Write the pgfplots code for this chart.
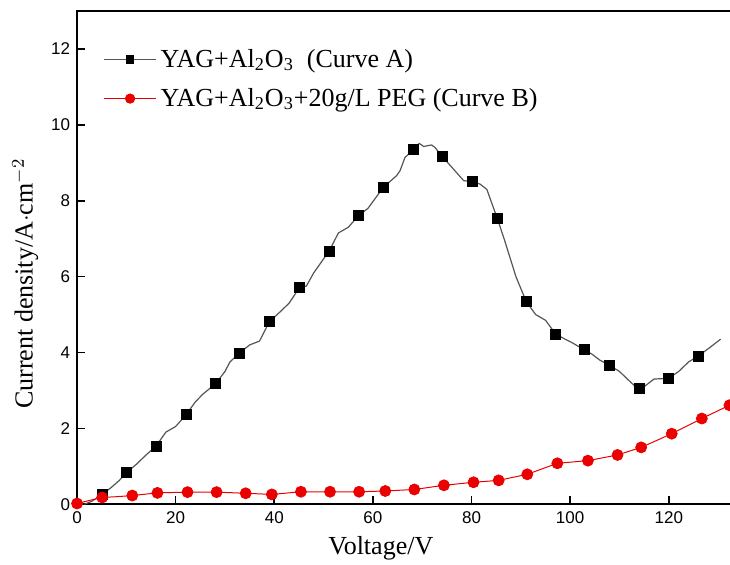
\documentclass[border=0pt]{standalone}
\usepackage{fontspec}
\setmainfont{Liberation Serif}
\setsansfont{Liberation Sans}
\usepackage{pgfplots}
\pgfplotsset{compat=1.18}
\pgfplotsset{legend image code/.code={%
    \draw[#1] (0pt,0pt) -- (26pt,0pt);
    \draw[#1] plot coordinates {(13pt,0pt)};}}

\definecolor{lineA}{RGB}{85,85,85}
\definecolor{redB}{RGB}{235,0,0}

\begin{document}
\begin{tikzpicture}
\begin{axis}[
    scale only axis,
    width=345pt, height=246.5pt,
    xmin=0, xmax=140, ymin=0, ymax=13,
    xtick={0,20,...,120}, ytick={0,2,...,12},
    axis line style={line width=1pt},
    tick style={line width=0.8pt, black},
    major tick length=4pt,
    tick align=inside,
    xtick pos=bottom, ytick pos=left,
    ticklabel style={font=\sffamily\fontsize{8.5}{10}\selectfont},
    /pgf/number format/assume math mode=true,
    xlabel={Voltage/V},
    ylabel={Current density/A$\cdot$cm$^{-2}$},
    label style={font=\fontsize{13}{15}\selectfont},
    xlabel style={at={(axis description cs:0.44,-0.089)}, anchor=center},
    ylabel style={at={(axis description cs:-0.075,0.447)}, anchor=center},
    legend style={at={(axis description cs:0.029,0.94)}, anchor=north west,
        draw=none, fill=none, font=\fontsize{13}{15}\selectfont,
        row sep=5pt},
    legend cell align=left,
]
% curve A, line
\addplot[lineA, line width=0.6pt, forget plot] coordinates {
(1.5,0) (3,0.08) (5.1,0.26) (7,0.45) (8.5,0.62) (10.1,0.84) (12,1.05) (14,1.3)
(16,1.53) (18,1.9) (20,2.05) (22.1,2.36) (24,2.7) (25.5,2.9) (28.1,3.18) (30,3.5)
(31,3.75) (32.9,3.98) (35,4.2) (37,4.3) (39,4.81) (41,5.05) (43,5.3) (45.1,5.71)
(46.5,5.75) (48,6.1) (51.1,6.67) (53,7.15) (55,7.3) (57.1,7.61) (59,7.8) (62.1,8.35)
(64.8,8.66) (65.5,8.79) (66.5,9.14) (68.2,9.34) (69.4,9.51) (70.3,9.43) (71.9,9.47)
(72.6,9.4) (74.1,9.16) (78.4,8.53) (80.1,8.5) (81.7,8.44) (83.1,8.3) (85.2,7.54)
(86.6,7.0) (89,6.0) (91.1,5.34) (93,5.0) (95,4.85) (97.1,4.48) (99,4.35) (100.5,4.25)
(102.9,4.07) (104.5,3.95) (106,3.8) (108,3.66) (110,3.5) (112,3.25) (114.1,3.0)
(115.5,3.15) (117,3.3) (120,3.32) (122,3.5) (124,3.75) (126,3.91) (128,4.1) (130.5,4.35)
};
% curve A, markers
\addplot[only marks, mark=square*, mark size=2.5pt, black, forget plot] coordinates {
(5.1,0.26) (10.1,0.84) (16,1.53) (22.1,2.36) (28.1,3.18) (32.9,3.98) (39,4.81)
(45.1,5.71) (51.1,6.67) (57.1,7.61) (62.1,8.34) (68.2,9.34) (74.1,9.16) (80.1,8.5)
(85.2,7.54) (91.1,5.34) (97.1,4.48) (102.9,4.07) (108,3.66) (114.1,3.05) (120,3.32)
(126,3.91)
};
% curve B
\addplot[redB, line width=0.5pt, forget plot] coordinates {
(0,0.02) (2.5,0.1) (5.1,0.18) (8,0.2) (11.2,0.23) (16.3,0.3) (22.4,0.32) (28.3,0.32)
(34.2,0.29) (39.5,0.26) (45.4,0.33) (51.3,0.33) (57.2,0.33) (62.5,0.35) (68.4,0.39)
(74.4,0.5) (80.4,0.58) (85.5,0.63) (91.3,0.79) (97.4,1.08) (103.6,1.15) (109.6,1.3)
(114.4,1.5) (120.6,1.86) (126.7,2.26) (132.3,2.61) (136,2.85)
};
\addplot[only marks, mark=*, mark size=2.75pt, redB, forget plot] coordinates {
(0,0.02) (5.1,0.18) (11.2,0.23) (16.3,0.3) (22.4,0.32) (28.3,0.32) (34.2,0.29)
(39.5,0.26) (45.4,0.33) (51.3,0.33) (57.2,0.33) (62.5,0.35) (68.4,0.39) (74.4,0.5)
(80.4,0.58) (85.5,0.63) (91.3,0.79) (97.4,1.08) (103.6,1.15) (109.6,1.3) (114.4,1.5)
(120.6,1.86) (126.7,2.26) (132.3,2.61)
};
\addlegendimage{lineA, line width=0.6pt, mark=square*, mark size=1.8pt, mark options={black}}
\addlegendentry{YAG+Al\textsubscript{2}O\textsubscript{3}~~(Curve A)}
\addlegendimage{redB, line width=0.5pt, mark=*, mark size=2.3pt}
\addlegendentry{YAG+Al\textsubscript{2}O\textsubscript{3}+20g/L PEG (Curve B)}
\coordinate (sw) at (rel axis cs:0,0);
\coordinate (ne) at (rel axis cs:1,1);
\end{axis}
\pgfresetboundingbox
\path ([shift={(-38.5pt,-30pt)}]sw) rectangle ([shift={(-18.7pt,5.5pt)}]ne);
\end{tikzpicture}
\end{document}
